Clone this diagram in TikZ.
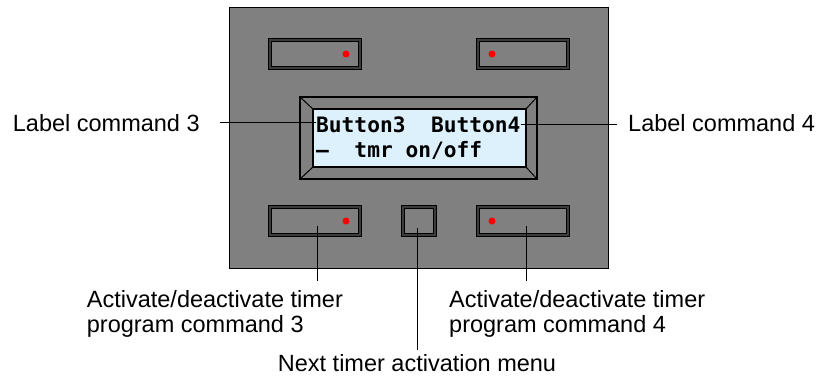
\documentclass[tikz,border=0pt]{standalone}
\usepackage{fontspec}
\setmainfont{Liberation Sans}
\newfontfamily\lcdfont{DejaVu Sans Mono}
\definecolor{panelgrey}{HTML}{808080}
\definecolor{screenblue}{HTML}{DDF1FC}
\definecolor{bandgrey}{HTML}{3C3C3C}
\begin{document}
\begin{tikzpicture}[x=1pt,y=-1pt,
  lbl/.style={font=\fontsize{23.5}{25.5}\selectfont, inner sep=0pt, align=left},
  btn/.style={draw=black, line width=0.7pt, double=bandgrey, double distance=2.8pt,
    fill=panelgrey, minimum width=90pt, minimum height=28pt, inner sep=0pt},
  reddot/.style={circle, fill=red, inner sep=0pt, minimum size=7pt},
  lead/.style={draw=black, line width=0.8pt},
  lcd/.style={font=\lcdfont\bfseries\fontsize{21.2}{24}\selectfont, inner sep=0pt},
  plate/.style={draw=black, inner sep=0pt, outer sep=0pt}]
\useasboundingbox (0,0) rectangle (820,381);

% panel
\node[plate, line width=0.8pt, fill=panelgrey, minimum width=379pt, minimum height=261pt] (panel) at (418.5,137.5) {};

% buttons
\node[btn] (b1) at (315,54) {};
\node[btn] (b2) at (523,54) {};
\node[btn] (b3) at (315,221) {};
\node[btn] (b4) at (523,221) {};
\node[btn, minimum width=32pt] (bm) at (419,221) {};
\node[reddot] (d1) at (346,54) {};
\node[reddot] (d2) at (492,54) {};
\node[reddot] (d3) at (346,221) {};
\node[reddot] (d4) at (492,221) {};

% display bezel
\node[plate, line width=1.3pt, fill=panelgrey, minimum width=237pt, minimum height=82pt] (bezel) at (418.5,138) {};
\node[plate, line width=1.3pt, fill=screenblue, minimum width=213pt, minimum height=58pt] (screen) at (419.5,138) {};
\draw[line width=1pt] (bezel.north west) -- (screen.north west)
  (bezel.north east) -- (screen.north east)
  (bezel.south west) -- (screen.south west)
  (bezel.south east) -- (screen.south east);

% display text
\node[lcd, anchor=base west] (s1) at (316,132) {Button3~~Button4};
\node[lcd, anchor=base west] (s2) at (316,157) {–~~tmr~on/off};

% labels
\node[lbl, anchor=base west] (l3) at (12.7,131) {Label command 3};
\node[lbl, anchor=base west] (l4) at (628,131) {Label command 4};
\node[lbl, anchor=base west] (a3) at (86.7,332.5) {Activate/deactivate timer\\program command 3};
\node[lbl, anchor=base west] (a4) at (449,332.5) {Activate/deactivate timer\\program command 4};
\node[lbl, anchor=base] (nx) at (417,371.5) {Next timer activation menu};

% leaders
\draw[lead] ([shift={(20,0)}]l3.east) -- (s1.west |- l3.east);
\draw[lead] (s1.east) -- ([shift={(-11,0)}]l4.west |- s1.east);
\draw[lead] ([shift={(2,5)}]b3.center) -- ([shift={(2,60)}]b3.center);
\draw[lead] ([shift={(3,5)}]b4.center) -- ([shift={(3,60)}]b4.center);
\draw[lead] ([shift={(-2,7)}]bm.center) -- ([shift={(-2,129)}]bm.center);
\end{tikzpicture}
\end{document}
